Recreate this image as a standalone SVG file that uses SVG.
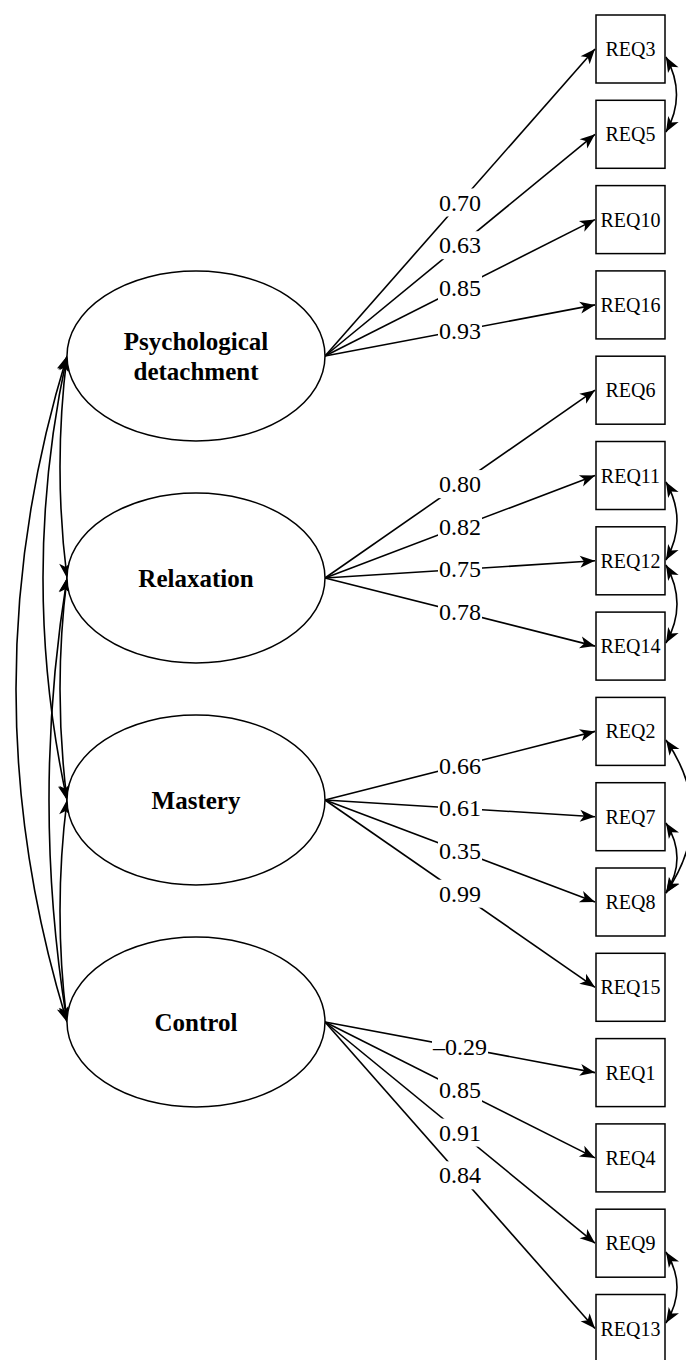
<svg xmlns="http://www.w3.org/2000/svg" width="686" height="1360" viewBox="0 0 686 1360">
<defs>
<marker id="ah" markerUnits="userSpaceOnUse" markerWidth="16" markerHeight="14" refX="15" refY="6" orient="auto-start-reverse" overflow="visible">
<path d="M0,0 L15,6 L0,12 L4,6 Z" fill="#000"/>
</marker>
<style>
.lat{fill:#fff;stroke:#000;stroke-width:1.5}
.obs{fill:#fff;stroke:#000;stroke-width:1.5}
.lt{font-family:"Liberation Serif","Times New Roman",serif;font-weight:bold;font-size:25px;text-anchor:middle;fill:#000}
.ot{font-family:"Liberation Serif","Times New Roman",serif;font-size:20px;text-anchor:middle;fill:#000}
.ed{fill:none;stroke:#000;stroke-width:1.6;marker-end:url(#ah)}
.cv{fill:none;stroke:#000;stroke-width:1.6;marker-start:url(#ah);marker-end:url(#ah)}
.lb{fill:#fff;stroke:none}
.ll{font-family:"Liberation Serif","Times New Roman",serif;font-size:24px;text-anchor:middle;fill:#000}
</style>
</defs>
<rect width="686" height="1360" fill="#fff"/>
<g id="connectors">
<path class="ed" d="M325,356 L595,49"/>
<path class="ed" d="M325,356 L595,134.3"/>
<path class="ed" d="M325,356 L595,219.6"/>
<path class="ed" d="M325,356 L595,304.9"/>
<path class="ed" d="M325,578 L595,390.2"/>
<path class="ed" d="M325,578 L595,475.5"/>
<path class="ed" d="M325,578 L595,560.8"/>
<path class="ed" d="M325,578 L595,646.1"/>
<path class="ed" d="M325,800 L595,731.4"/>
<path class="ed" d="M325,800 L595,816.7"/>
<path class="ed" d="M325,800 L595,902"/>
<path class="ed" d="M325,800 L595,987.3"/>
<path class="ed" d="M325,1022 L595,1072.6"/>
<path class="ed" d="M325,1022 L595,1157.9"/>
<path class="ed" d="M325,1022 L595,1243.2"/>
<path class="ed" d="M325,1022 L595,1328.5"/>
<path class="cv" d="M666,57 Q687,95 666,132"/>
<path class="cv" d="M666,482 Q688,521 666,560"/>
<path class="cv" d="M666,565 Q688,604 666,643"/>
<path class="cv" d="M666,740 Q718,816 666,893"/>
<path class="cv" d="M666,823 Q688,858 666,893"/>
<path class="cv" d="M666,1252 Q688,1287 666,1323"/>
<path class="cv" d="M67,356 Q53,467 67,578"/>
<path class="cv" d="M67,578 Q53,689 67,800"/>
<path class="cv" d="M67,800 Q53,911 67,1022"/>
<path class="cv" d="M67,356 Q19,578 67,800"/>
<path class="cv" d="M67,578 Q31,800 67,1022"/>
<path class="cv" d="M67,356 Q-35,689 67,1022"/>
<g id="labels">
<rect class="lb" x="438" y="188.5" width="44" height="28"/><text class="ll" x="460" y="210.5">0.70</text>
<rect class="lb" x="438" y="231.2" width="44" height="28"/><text class="ll" x="460" y="253.2">0.63</text>
<rect class="lb" x="438" y="273.8" width="44" height="28"/><text class="ll" x="460" y="295.8">0.85</text>
<rect class="lb" x="438" y="316.5" width="44" height="28"/><text class="ll" x="460" y="338.5">0.93</text>
<rect class="lb" x="438" y="470.1" width="44" height="28"/><text class="ll" x="460" y="492.1">0.80</text>
<rect class="lb" x="438" y="512.8" width="44" height="28"/><text class="ll" x="460" y="534.8">0.82</text>
<rect class="lb" x="438" y="555.4" width="44" height="28"/><text class="ll" x="460" y="577.4">0.75</text>
<rect class="lb" x="438" y="598" width="44" height="28"/><text class="ll" x="460" y="620">0.78</text>
<rect class="lb" x="438" y="751.7" width="44" height="28"/><text class="ll" x="460" y="773.7">0.66</text>
<rect class="lb" x="438" y="794.4" width="44" height="28"/><text class="ll" x="460" y="816.4">0.61</text>
<rect class="lb" x="438" y="837" width="44" height="28"/><text class="ll" x="460" y="859">0.35</text>
<rect class="lb" x="438" y="879.7" width="44" height="28"/><text class="ll" x="460" y="901.7">0.99</text>
<rect class="lb" x="432" y="1033.3" width="56" height="28"/><text class="ll" x="460" y="1055.3">–0.29</text>
<rect class="lb" x="438" y="1076" width="44" height="28"/><text class="ll" x="460" y="1098">0.85</text>
<rect class="lb" x="438" y="1118.6" width="44" height="28"/><text class="ll" x="460" y="1140.6">0.91</text>
<rect class="lb" x="438" y="1161.3" width="44" height="28"/><text class="ll" x="460" y="1183.3">0.84</text>
</g>
</g>
<g id="psychological-detachment"><ellipse class="lat" cx="196" cy="356" rx="129" ry="85"/><text class="lt" x="196" y="350">Psychological</text><text class="lt" x="196" y="380">detachment</text></g>
<g id="relaxation"><ellipse class="lat" cx="196" cy="578" rx="129" ry="85"/><text class="lt" x="196" y="587">Relaxation</text></g>
<g id="mastery"><ellipse class="lat" cx="196" cy="800" rx="129" ry="85"/><text class="lt" x="196" y="809">Mastery</text></g>
<g id="control"><ellipse class="lat" cx="196" cy="1022" rx="129" ry="85"/><text class="lt" x="196" y="1031">Control</text></g>
<g id="REQ3"><rect class="obs" x="596" y="15" width="69" height="68"/><text class="ot" x="630.5" y="56">REQ3</text></g>
<g id="REQ5"><rect class="obs" x="596" y="100.3" width="69" height="68"/><text class="ot" x="630.5" y="141.3">REQ5</text></g>
<g id="REQ10"><rect class="obs" x="596" y="185.6" width="69" height="68"/><text class="ot" x="630.5" y="226.6">REQ10</text></g>
<g id="REQ16"><rect class="obs" x="596" y="270.9" width="69" height="68"/><text class="ot" x="630.5" y="311.9">REQ16</text></g>
<g id="REQ6"><rect class="obs" x="596" y="356.2" width="69" height="68"/><text class="ot" x="630.5" y="397.2">REQ6</text></g>
<g id="REQ11"><rect class="obs" x="596" y="441.5" width="69" height="68"/><text class="ot" x="630.5" y="482.5">REQ11</text></g>
<g id="REQ12"><rect class="obs" x="596" y="526.8" width="69" height="68"/><text class="ot" x="630.5" y="567.8">REQ12</text></g>
<g id="REQ14"><rect class="obs" x="596" y="612.1" width="69" height="68"/><text class="ot" x="630.5" y="653.1">REQ14</text></g>
<g id="REQ2"><rect class="obs" x="596" y="697.4" width="69" height="68"/><text class="ot" x="630.5" y="738.4">REQ2</text></g>
<g id="REQ7"><rect class="obs" x="596" y="782.7" width="69" height="68"/><text class="ot" x="630.5" y="823.7">REQ7</text></g>
<g id="REQ8"><rect class="obs" x="596" y="868" width="69" height="68"/><text class="ot" x="630.5" y="909">REQ8</text></g>
<g id="REQ15"><rect class="obs" x="596" y="953.3" width="69" height="68"/><text class="ot" x="630.5" y="994.3">REQ15</text></g>
<g id="REQ1"><rect class="obs" x="596" y="1038.6" width="69" height="68"/><text class="ot" x="630.5" y="1079.6">REQ1</text></g>
<g id="REQ4"><rect class="obs" x="596" y="1123.9" width="69" height="68"/><text class="ot" x="630.5" y="1164.9">REQ4</text></g>
<g id="REQ9"><rect class="obs" x="596" y="1209.2" width="69" height="68"/><text class="ot" x="630.5" y="1250.2">REQ9</text></g>
<g id="REQ13"><rect class="obs" x="596" y="1294.5" width="69" height="68"/><text class="ot" x="630.5" y="1335.5">REQ13</text></g>
</svg>
